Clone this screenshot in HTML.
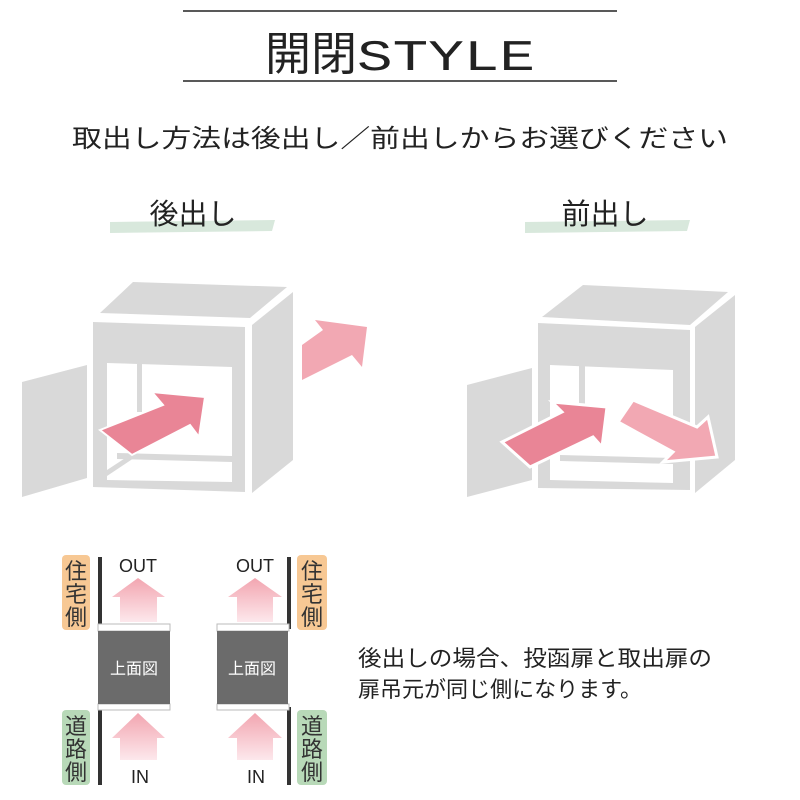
<!DOCTYPE html>
<html><head><meta charset="utf-8"><style>
html,body{margin:0;padding:0;background:#fff;}
svg{display:block;}
.s{font-family:"Liberation Sans","Noto Sans CJK JP",sans-serif;}
.m{font-family:"Liberation Mono","Courier New",monospace !important;}
</style></head><body>
<svg class="s" width="800" height="800" viewBox="0 0 800 800" xmlns="http://www.w3.org/2000/svg">
<defs>
<linearGradient id="up" x1="0" y1="0" x2="0" y2="1"><stop offset="0" stop-color="#f2a5b0"/><stop offset="1" stop-color="#fde8ec"/></linearGradient>
</defs>
<line x1="183" y1="11" x2="617" y2="11" stroke="#222" stroke-width="1.5"/>
<line x1="183" y1="81" x2="617" y2="81" stroke="#222" stroke-width="1.5"/>
<text x="265" y="70" font-size="46" fill="#222">開閉</text>
<text class="m" x="357" y="70" font-size="44" fill="#222" textLength="178" lengthAdjust="spacingAndGlyphs">STYLE</text>
<text x="400" y="147" text-anchor="middle" font-size="25" fill="#222" textLength="656" lengthAdjust="spacingAndGlyphs">取出し方法は後出し／前出しからお選びください</text>

<polygon points="110,222 275,220 272,231 110,233" fill="#d8e8dc"/>
<text x="193" y="224" text-anchor="middle" font-size="29" fill="#222">後出し</text>
<polygon points="525,222 690,220 687,231 525,233" fill="#d8e8dc"/>
<text x="605" y="224" text-anchor="middle" font-size="29" fill="#222">前出し</text>

<g fill="#d9d9d9">
<polygon points="133,282 287,287 250,318 100,313"/>
<polygon points="93,322 245,327 245,492 93,487"/>
<polygon points="252,325 293,292 293,460 252,493"/>
<polygon points="22,382 87,365 87,478 22,497"/>
</g>
<polygon points="107,363 232,367 232,482 107,480" fill="#fff"/>
<g fill="#d9d9d9">
<rect x="137" y="364" width="5" height="48"/>
<polygon points="117,453 232,456 232,462 117,459"/>
<polygon points="107,470 130,455 134,458 107,476"/>
</g>
<polygon points="100,430 163,405 152,392 205,397 199,437 190,425 132,455" fill="#e98596" stroke="#fff" stroke-width="2"/>
<polygon points="302,345 323,330 315,320 367,327 362,367 352,355 302,380" fill="#f2a8b3"/>

<g fill="#d9d9d9">
<polygon points="583,285 728,292 690,325 542,317"/>
<polygon points="538,323 690,330 690,490 538,488"/>
<polygon points="695,327 735,295 735,460 695,493"/>
<polygon points="467,385 532,368 532,480 467,497"/>
</g>
<polygon points="550,365 673,370 673,483 550,480" fill="#fff"/>
<g fill="#d9d9d9">
<rect x="579" y="366" width="6" height="46"/>
<polygon points="560,455 673,458 673,464 560,461"/>
</g>
<polygon points="502,442 562,412 552,402 607,407 602,447 593,437 530,467" fill="#e98596" stroke="#fff" stroke-width="3"/>
<polygon points="618,422 633,400 697,427 708,417 717,457 663,462 673,452" fill="#f2a8b3" stroke="#fff" stroke-width="3"/>

<rect x="62" y="555" width="28" height="75" rx="4" fill="#f7c894"/>
<text x="76" y="579" text-anchor="middle" font-size="22" fill="#333">住</text>
<text x="76" y="602" text-anchor="middle" font-size="22" fill="#333">宅</text>
<text x="76" y="625" text-anchor="middle" font-size="22" fill="#333">側</text>
<rect x="62" y="710" width="28" height="75" rx="4" fill="#b8d9b8"/>
<text x="76" y="734" text-anchor="middle" font-size="22" fill="#333">道</text>
<text x="76" y="757" text-anchor="middle" font-size="22" fill="#333">路</text>
<text x="76" y="780" text-anchor="middle" font-size="22" fill="#333">側</text>
<rect x="98" y="557" width="4" height="72" fill="#333"/>
<rect x="98" y="707" width="4" height="78" fill="#333"/>
<rect x="98" y="624" width="72" height="7" fill="#fff" stroke="#bbb" stroke-width="1"/>
<rect x="98" y="704" width="72" height="6" fill="#fff" stroke="#bbb" stroke-width="1"/>
<rect x="98" y="631" width="72" height="73" fill="#6b6b6b"/>
<text x="134" y="674" text-anchor="middle" font-size="16" fill="#fff">上面図</text>
<text x="138" y="572" text-anchor="middle" font-size="18" fill="#222">OUT</text>
<polygon points="112,597 138,578 165,597 157,597 157,622 120,622 120,597" fill="url(#up)"/>
<polygon points="112,738 138,713 165,738 157,738 157,760 120,760 120,738" fill="url(#up)"/>
<text x="140" y="783" text-anchor="middle" font-size="18" fill="#222">IN</text>

<rect x="297" y="555" width="30" height="75" rx="4" fill="#f7c894"/>
<text x="312" y="579" text-anchor="middle" font-size="22" fill="#333">住</text>
<text x="312" y="602" text-anchor="middle" font-size="22" fill="#333">宅</text>
<text x="312" y="625" text-anchor="middle" font-size="22" fill="#333">側</text>
<rect x="297" y="710" width="30" height="75" rx="4" fill="#b8d9b8"/>
<text x="312" y="734" text-anchor="middle" font-size="22" fill="#333">道</text>
<text x="312" y="757" text-anchor="middle" font-size="22" fill="#333">路</text>
<text x="312" y="780" text-anchor="middle" font-size="22" fill="#333">側</text>
<rect x="287" y="557" width="4" height="72" fill="#333"/>
<rect x="287" y="707" width="4" height="78" fill="#333"/>
<rect x="217" y="624" width="72" height="7" fill="#fff" stroke="#bbb" stroke-width="1"/>
<rect x="217" y="704" width="72" height="6" fill="#fff" stroke="#bbb" stroke-width="1"/>
<rect x="217" y="631" width="71" height="73" fill="#6b6b6b"/>
<text x="252" y="674" text-anchor="middle" font-size="16" fill="#fff">上面図</text>
<text x="255" y="572" text-anchor="middle" font-size="18" fill="#222">OUT</text>
<polygon points="228,597 255,578 282,597 273,597 273,622 237,622 237,597" fill="url(#up)"/>
<polygon points="228,738 255,713 282,738 273,738 273,760 237,760 237,738" fill="url(#up)"/>
<text x="256" y="783" text-anchor="middle" font-size="18" fill="#222">IN</text>

<text x="358" y="666" font-size="22" fill="#222" textLength="354" lengthAdjust="spacingAndGlyphs">後出しの場合、投函扉と取出扉の</text>
<text x="358" y="697" font-size="22" fill="#222" textLength="284" lengthAdjust="spacingAndGlyphs">扉吊元が同じ側になります。</text>
</svg>
</body></html>
